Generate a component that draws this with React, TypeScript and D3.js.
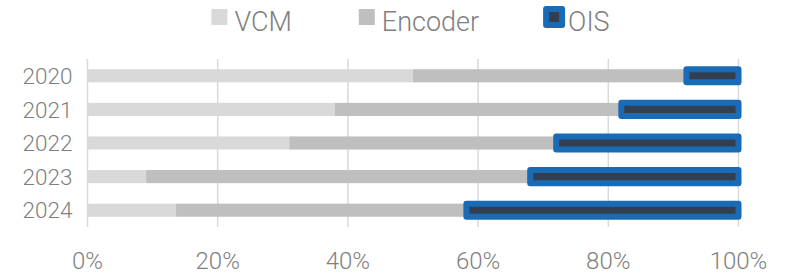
import { useEffect, useRef } from 'react';
import * as d3 from 'd3';

const years = ['2020', '2021', '2022', '2023', '2024'];
const vcm = [50, 38, 31, 9, 13.6];
const encoder = [42, 44, 41, 59, 44.6];
const ois = [8, 18, 28, 32, 41.8];
const seriesNames = ['VCM', 'Encoder', 'OIS'];
const xTicks = [0, 0.2, 0.4, 0.6, 0.8, 1];

const colors = { VCM: '#d9d9d9', Encoder: '#bfbfbf', OIS: '#333f50' };
const oisStroke = '#1a6bb5';
const textColor = '#7f7f7f';

function App() {
  const ref = useRef<SVGSVGElement>(null);

  useEffect(() => {
    const svg = d3.select(ref.current);
    svg.selectAll('*').remove();

    const width = 787;
    const height = 274;
    const margin = { top: 59, right: 48.5, bottom: 47, left: 87.5 };
    const innerW = width - margin.left - margin.right;
    const innerH = height - margin.top - margin.bottom;

    const rows = years.map((y, i) => {
      const total = vcm[i] + encoder[i] + ois[i];
      return { year: y, VCM: vcm[i] / total, Encoder: encoder[i] / total, OIS: ois[i] / total };
    });

    const stacked = d3.stack<any>().keys(seriesNames)(rows);

    const x = d3.scaleLinear().domain([0, 1]).range([0, innerW]);
    const y = d3.scaleBand().domain(years).range([0, innerH]).paddingInner(0.61).paddingOuter(0.305);

    const g = svg.append('g').attr('transform', `translate(${margin.left},${margin.top})`);

    // grid
    g.selectAll('.grid')
      .data(xTicks)
      .enter()
      .append('line')
      .attr('x1', (d) => x(d))
      .attr('x2', (d) => x(d))
      .attr('y1', 0)
      .attr('y2', innerH)
      .attr('stroke', '#d9d9d9')
      .attr('stroke-width', 1.5);

    // x labels
    g.selectAll('.xlab')
      .data(xTicks)
      .enter()
      .append('text')
      .attr('x', (d) => x(d))
      .attr('y', innerH + 42)
      .attr('text-anchor', 'middle')
      .attr('font-size', 24)
      .attr('fill', textColor)
      .text((d) => d3.format('.0%')(d));

    // y labels
    g.selectAll('.ylab')
      .data(years)
      .enter()
      .append('text')
      .attr('x', -15)
      .attr('y', (d) => (y(d) as number) + y.bandwidth() / 2)
      .attr('dy', '0.36em')
      .attr('text-anchor', 'end')
      .attr('font-size', 22.5)
      .attr('fill', textColor)
      .text((d) => d);

    // bars
    stacked.forEach((layer) => {
      const key = layer.key as 'VCM' | 'Encoder' | 'OIS';
      g.selectAll('.bar-' + key)
        .data(layer)
        .enter()
        .append('rect')
        .attr('x', (d) => x(d[0]))
        .attr('y', (d) => y(d.data.year) as number)
        .attr('width', (d) => x(d[1]) - x(d[0]))
        .attr('height', y.bandwidth())
        .attr('fill', colors[key])
        .attr('stroke', key === 'OIS' ? oisStroke : 'none')
        .attr('stroke-width', key === 'OIS' ? 6 : 0)
        .attr('stroke-linejoin', 'round');
    });

    // legend
    const legend = svg.append('g');
    let cx = 0;
    seriesNames.forEach((name) => {
      const item = legend.append('g').attr('transform', `translate(${cx},0)`);
      item
        .append('rect')
        .attr('x', 0)
        .attr('y', 9)
        .attr('width', 16)
        .attr('height', 16)
        .attr('fill', colors[name as 'VCM'])
        .attr('stroke', name === 'OIS' ? oisStroke : 'none')
        .attr('stroke-width', name === 'OIS' ? 6 : 0)
        .attr('stroke-linejoin', 'round');
      const t = item
        .append('text')
        .attr('x', name === 'OIS' ? 22 : 23)
        .attr('y', 30.5)
        .attr('font-size', 27)
        .attr('fill', textColor)
        .text(name);
      const tw = (t.node() as SVGTextElement).getComputedTextLength();
      cx += 23 + tw + 67;
    });
    const lw = cx - 67;
    legend.attr('transform', `translate(${margin.left + innerW / 2 - lw / 2 - 2},0)`);
  }, []);

  return (
    <div style={{ position: 'absolute', left: 0, top: 0 }}>
      <svg
        ref={ref}
        width={787}
        height={274}
        style={{ display: 'block', fontFamily: 'Roboto', fontWeight: 300 }}
      ></svg>
    </div>
  );
}

export default App;
